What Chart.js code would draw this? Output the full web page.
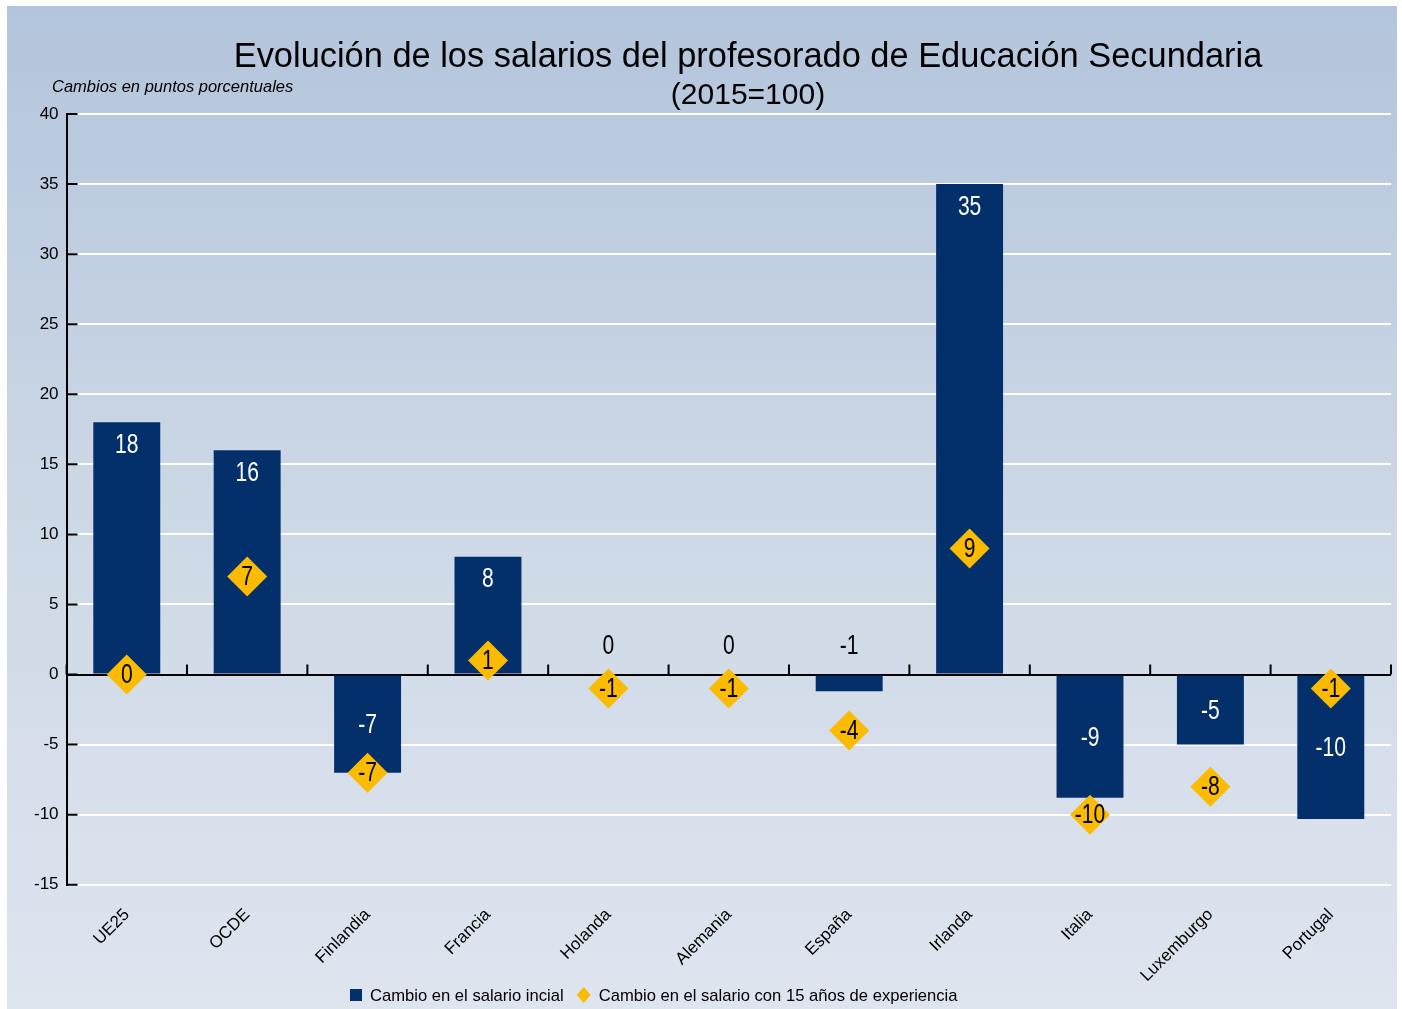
<!DOCTYPE html>
<html lang="es">
<head>
<meta charset="UTF-8">
<title>Evolución de los salarios del profesorado de Educación Secundaria</title>
<script src="https://cdn.jsdelivr.net/npm/chart.js"></script>
<style>
  body { margin: 0; background: #fff; }
  #wrap { width: 1402px; height: 1009px; }
</style>
</head>
<body>
<div id="wrap"><canvas id="salaryChart"></canvas></div>
<script>
var paises = ['UE25', 'OCDE', 'Finlandia', 'Francia', 'Holanda', 'Alemania', 'España', 'Irlanda', 'Italia', 'Luxemburgo', 'Portugal'];
// Cambio en el salario inicial (puntos porcentuales)
var salarioInicial = [18, 16, -7, 8.4, 0, 0, -1.2, 35, -8.8, -5, -10.3];
// Cambio en el salario con 15 años de experiencia
var salario15 = [0, 7, -7, 1, -1, -1, -4, 9, -10, -8, -1];
var yMin = -15, yMax = 40, yPaso = 5;

var titulo = 'Evolución de los salarios del profesorado de Educación Secundaria';
var subtitulo = '(2015=100)';
var tituloEje = 'Cambios en puntos porcentuales';

var fuente = '"Liberation Sans", Arial, sans-serif';

// texto algo estrecho, como en el original
function textoEstrecho(ctx, txt, x, y) {
    ctx.save();
    ctx.translate(x, y);
    ctx.scale(0.78, 1);
    ctx.fillText(txt, 0, 0);
    ctx.restore();
}

// fondo degradado
var fondo = {
    id: 'fondo',
    beforeDraw: function (chart) {
        var ctx = chart.ctx;
        ctx.save();
        ctx.fillStyle = '#fff';
        ctx.fillRect(0, 0, chart.width, chart.height);
        var g = ctx.createLinearGradient(0, 6, 0, chart.height);
        g.addColorStop(0, '#b3c5dc');
        g.addColorStop(0.5, '#cdd8e6');
        g.addColorStop(1, '#dee5ef');
        ctx.fillStyle = g;
        ctx.fillRect(7, 6, 1390, chart.height - 6);
        ctx.restore();
    }
};

// marcas hacia dentro en el eje Y y marcas sobre la linea de cero
var marcas = {
    id: 'marcas',
    beforeDatasetsDraw: function (chart) {
        var ctx = chart.ctx, x = chart.scales.x, y = chart.scales.y, area = chart.chartArea;
        var cero = y.getPixelForValue(0);
        ctx.save();
        ctx.strokeStyle = '#000';
        ctx.lineWidth = 2;
        ctx.beginPath();
        y.ticks.forEach(function (t) {
            var py = y.getPixelForValue(t.value);
            ctx.moveTo(area.left, py);
            ctx.lineTo(area.left + 11, py);
        });
        for (var i = 0; i <= paises.length; i++) {
            var px = x.getPixelForValue(i - 0.5);
            ctx.moveTo(px, cero);
            ctx.lineTo(px, cero - 10);
        }
        ctx.stroke();
        ctx.restore();
    }
};

// titulos, etiquetas de valores y leyenda
var etiquetas = {
    id: 'etiquetas',
    afterDatasetsDraw: function (chart) {
        var ctx = chart.ctx;
        var y = chart.scales.y;
        var cero = y.getPixelForValue(0);
        var barras = chart.getDatasetMeta(0).data;
        var puntos = chart.getDatasetMeta(1).data;
        ctx.save();
        ctx.textAlign = 'center';
        ctx.textBaseline = 'middle';
        ctx.font = '27px ' + fuente;
        barras.forEach(function (bar, i) {
            var v = salarioInicial[i];
            var alto = Math.abs(bar.y - cero);
            var ty;
            if (alto < 30) {
                ctx.fillStyle = '#000';
                ty = cero - 28;
            } else if (v > 0) {
                ctx.fillStyle = '#fff';
                ty = bar.y + 23;
            } else {
                ctx.fillStyle = '#fff';
                ty = (cero + bar.y) / 2 + 2;
            }
            textoEstrecho(ctx, String(Math.round(v)), bar.x, ty);
        });
        ctx.fillStyle = '#000';
        puntos.forEach(function (p, i) {
            textoEstrecho(ctx, String(salario15[i]), p.x, p.y + 1);
        });

        ctx.font = '34.4px ' + fuente;
        ctx.fillText(titulo, 748, 58);
        ctx.font = '30px ' + fuente;
        ctx.fillText(subtitulo, 748, 96);
        ctx.textAlign = 'left';
        ctx.font = 'italic 16.5px ' + fuente;
        ctx.fillText(tituloEje, 52, 87);

        // leyenda
        var ds = chart.data.datasets;
        var lx = 350, ly = 995;
        ctx.font = '16.6px ' + fuente;
        ctx.fillStyle = ds[0].backgroundColor;
        ctx.fillRect(lx, ly - 6, 12, 12);
        ctx.fillStyle = '#000';
        ctx.fillText(ds[0].label, lx + 20, ly + 1);
        lx += 20 + ctx.measureText(ds[0].label).width + 20;
        ctx.fillStyle = ds[1].pointBackgroundColor;
        ctx.beginPath();
        ctx.moveTo(lx, ly - 8);
        ctx.lineTo(lx + 7, ly);
        ctx.lineTo(lx, ly + 8);
        ctx.lineTo(lx - 7, ly);
        ctx.closePath();
        ctx.fill();
        ctx.fillStyle = '#000';
        ctx.fillText(ds[1].label, lx + 15, ly + 1);
        ctx.restore();
    }
};

var ctx = document.getElementById('salaryChart').getContext('2d');
var myChart = new Chart(ctx, {
    type: 'bar',
    data: {
        labels: paises,
        datasets: [{
            label: 'Cambio en el salario incial',
            data: salarioInicial,
            backgroundColor: '#03306b',
            borderWidth: 0,
            categoryPercentage: 1,
            barPercentage: 0.556,
            order: 1
        }, {
            type: 'line',
            label: 'Cambio en el salario con 15 años de experiencia',
            data: salario15,
            showLine: false,
            pointStyle: 'rectRot',
            pointRadius: 20,
            pointHoverRadius: 20,
            pointBackgroundColor: '#fbbb00',
            pointBorderWidth: 0,
            backgroundColor: '#fbbb00',
            borderColor: '#fbbb00',
            borderWidth: 0,
            order: 0
        }]
    },
    options: {
        responsive: true,
        maintainAspectRatio: false,
        animation: false,
        layout: {
            // los rombos grandes no deben añadir margen automatico
            autoPadding: false,
            padding: { top: 114, left: 26, right: 11, bottom: 11 }
        },
        plugins: {
            title: { display: false },
            tooltip: { enabled: false },
            legend: { display: false }
        },
        scales: {
            x: {
                grid: { display: false },
                border: { display: false },
                ticks: {
                    color: '#000',
                    font: { family: fuente, size: 17 },
                    minRotation: 45,
                    maxRotation: 45,
                    padding: 12
                },
                afterFit: function (escala) { escala.paddingRight = 0; }
            },
            y: {
                min: yMin,
                max: yMax,
                border: { color: '#000', width: 2 },
                grid: {
                    drawTicks: false,
                    lineWidth: 2,
                    color: function (c) { return c.tick && c.tick.value === 0 ? '#000' : '#fff'; }
                },
                ticks: {
                    stepSize: yPaso,
                    color: '#000',
                    padding: 8,
                    font: { family: fuente, size: 17 }
                }
            }
        }
    },
    plugins: [fondo, marcas, etiquetas]
});
</script>
</body>
</html>
